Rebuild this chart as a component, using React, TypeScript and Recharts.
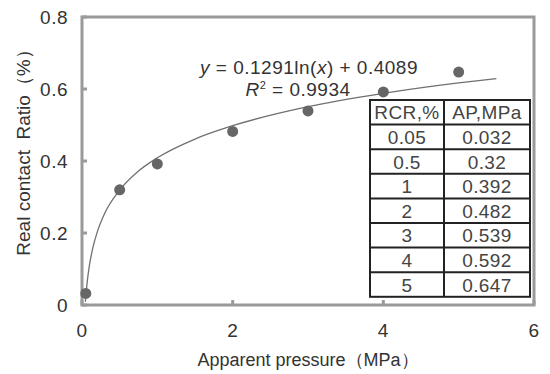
import { ComposedChart, Line, Scatter, XAxis, YAxis, ReferenceArea, Label } from "recharts";

// measured points (RCR, AP) - also shown in the table
const rcr = [0.05, 0.5, 1, 2, 3, 4, 5];
const ap = [0.032, 0.32, 0.392, 0.482, 0.539, 0.592, 0.647];

// log trend line
const trendX = [0.045, 0.06, 0.08, 0.1, 0.15, 0.2, 0.3, 0.5, 0.75, 1, 1.5, 2, 3, 4, 5, 5.5];
const trendY = [0.009, 0.046, 0.083, 0.112, 0.164, 0.201, 0.254, 0.319, 0.372, 0.409, 0.461, 0.498, 0.551, 0.588, 0.617, 0.629];

const xTicks = [0, 2, 4, 6];
const yTicks = [0, 0.2, 0.4, 0.6, 0.8];

const points = rcr.map((x, i) => ({ x, y: ap[i] }));
const trend = trendX.map((x, i) => ({ x, y: trendY[i] }));

const FONT = '"Liberation Sans", Arial, sans-serif';
const TEXT = "#333";
const AXIS = "#9a9a9a";

function Overlay() {
  const left = 370, mid = 444, right = 530, top = 100, rowH = 24.6;
  const rows = rcr.map((r, i) => [String(r), String(ap[i])]);
  const all = [["RCR,%", "AP,MPa"], ...rows];
  const bottom = top + rowH * all.length;
  return (
    <svg width={550} height={374} style={{ position: "absolute", left: 0, top: 0, pointerEvents: "none" }} fontFamily={FONT}>
      <text x={309} y={74} textAnchor="middle" fontSize={19} letterSpacing={0.5} fill={TEXT}>
        <tspan fontStyle="italic">y</tspan> = 0.1291ln(<tspan fontStyle="italic">x</tspan>) + 0.4089
      </text>
      <text x={298} y={96} textAnchor="middle" fontSize={19} letterSpacing={0.5} fill={TEXT}>
        <tspan fontStyle="italic">R</tspan>
        <tspan fontSize={11} dy={-7}>2</tspan>
        <tspan dy={7}> = 0.9934</tspan>
      </text>
      <rect x={left} y={top} width={right - left} height={bottom - top} fill="#fff" stroke="#222" strokeWidth={2} />
      <line x1={mid} x2={mid} y1={top} y2={bottom} stroke="#222" strokeWidth={2} />
      {all.slice(1).map((_, i) => (
        <line key={i} x1={left} x2={right} y1={top + rowH * (i + 1)} y2={top + rowH * (i + 1)} stroke="#222" strokeWidth={2} />
      ))}
      {all.map((row, i) => (
        <g key={i} fontSize={19} letterSpacing={0.4} fill="#444">
          <text x={(left + mid) / 2} y={top + rowH * (i + 0.5) + 7} textAnchor="middle">{row[0]}</text>
          <text x={(mid + right) / 2} y={top + rowH * (i + 0.5) + 7} textAnchor="middle">{row[1]}</text>
        </g>
      ))}
    </svg>
  );
}

export default function App() {
  const tick = { fill: TEXT, fontSize: 19, fontFamily: FONT, letterSpacing: 0.5 };
  return (
    <div style={{ position: "absolute", left: 0, top: 0, width: 550, height: 374, background: "#fff", fontFamily: FONT }}>
      <ComposedChart width={550} height={374} margin={{ top: 17, right: 16, bottom: 9, left: 0 }}>
        <XAxis
          type="number"
          dataKey="x"
          domain={[0, 6]}
          ticks={xTicks}
          interval={0}
          height={60}
          axisLine={false}
          tickLine={{ stroke: AXIS, strokeWidth: 3 }}
          tickSize={-5}
          tickMargin={24}
          tick={tick}
        >
          <Label value="Apparent pressure（MPa）" position="insideBottom" offset={-1} fill={TEXT} fontSize={18} fontFamily={FONT} />
        </XAxis>
        <YAxis
          type="number"
          domain={[0, 0.8]}
          ticks={yTicks}
          interval={0}
          width={82}
          axisLine={false}
          tickLine={{ stroke: AXIS, strokeWidth: 3 }}
          tickSize={-5}
          tickMargin={19}
          tick={tick}
        >
          <Label
            value={"Real contact\u00a0 Ratio（%）"}
            angle={-90}
            position="insideLeft"
            offset={23}
            dy={-13}
            fill={TEXT}
            fontSize={19}
            fontFamily={FONT}
            style={{ textAnchor: "middle" }}
          />
        </YAxis>
        <ReferenceArea x1={0} x2={6} y1={0} y2={0.8} fill="none" stroke={AXIS} strokeWidth={3} ifOverflow="visible" />
        <Line data={trend} dataKey="y" type="monotone" stroke="#707070" strokeWidth={1.3} dot={false} activeDot={false} isAnimationActive={false} />
        <Scatter
          data={points}
          dataKey="y"
          fill="#666"
          isAnimationActive={false}
          shape={(p: any) => <circle cx={p.cx} cy={p.cy} r={5.5} fill="#666" />}
        />
      </ComposedChart>
      <Overlay />
    </div>
  );
}
